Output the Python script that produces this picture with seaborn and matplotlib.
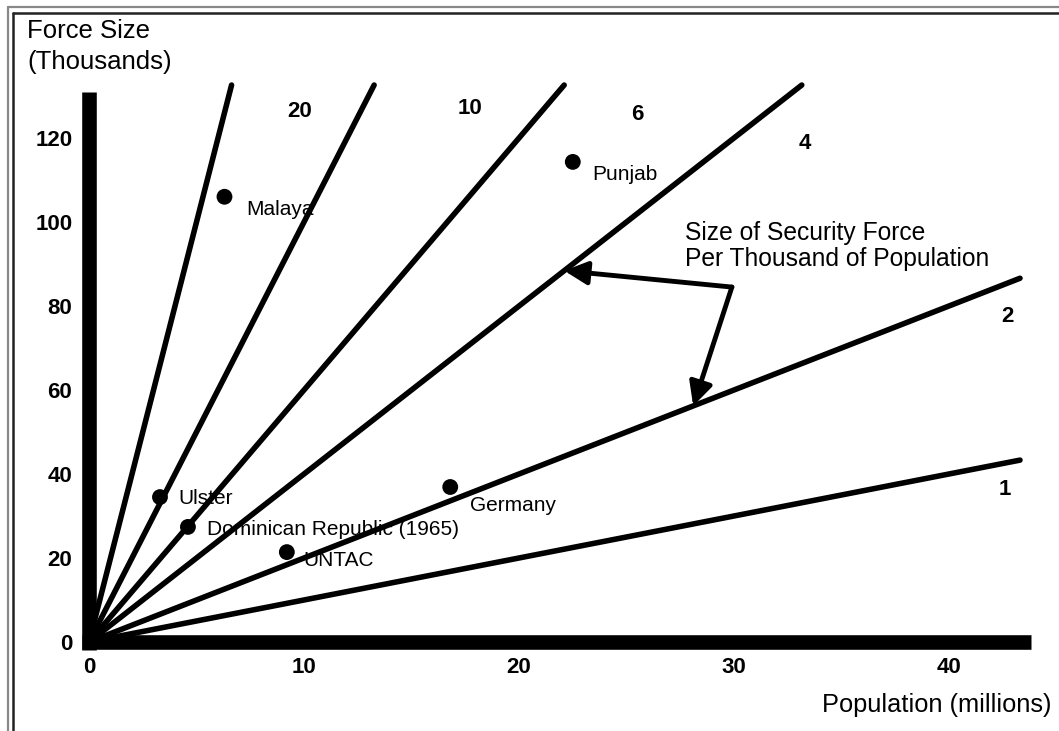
import numpy as np
import pandas as pd
import matplotlib
matplotlib.use("Agg")
import matplotlib.pyplot as plt
from matplotlib.lines import Line2D
import seaborn as sns

# ── Data ──────────────────────────────────────────────────────────────
ratios = [1, 2, 4, 6, 10, 20]          # security force per thousand population
ratio_labels = ["1", "2", "4", "6", "10", "20"]

cases = ["Malaya", "Punjab", "Ulster", "Dominican Republic (1965)", "UNTAC", "Germany"]
case_pop = [6.3, 22.5, 3.3, 4.6, 9.2, 16.8]          # millions
case_force = [106.0, 114.3, 34.5, 27.4, 21.4, 36.9]  # thousands

x_ticks = [0, 10, 20, 30, 40]
y_ticks = [0, 20, 40, 60, 80, 100, 120]

X_MAX = 43.3   # extent of the ratio lines
Y_CAP = 132.6

# ── Layout (not data) ─────────────────────────────────────────────────
ratio_label_pos = [(42.6, 36.2), (42.7, 77.4), (33.3, 118.8),
                   (25.5, 125.5), (17.7, 127.1), (9.8, 126.4)]
case_offsets = [(16, -9), (14, -9), (13, -1), (14, -2), (12, -6), (14, -13)]  # points

# build line table from the ratios
rows = []
for r in ratios:
    x_end = min(X_MAX, Y_CAP / r)
    for x in (0.0, x_end):
        rows.append({"ratio": r, "pop": x, "force": r * x})
lines_df = pd.DataFrame(rows)
cases_df = pd.DataFrame({"case": cases, "pop": case_pop, "force": case_force})

sns.set_theme(style="white")
plt.rcParams["font.family"] = ["Liberation Sans", "DejaVu Sans"]
plt.rcParams.update({"text.color": "black", "xtick.color": "black",
                     "ytick.color": "black", "axes.labelcolor": "black"})

fig = plt.figure(figsize=(10.59, 7.31), dpi=100)
ax = fig.add_axes([60 / 1059, 51 / 731, 980 / 1059, 600 / 731])
ax.set_xlim(-1.35, 44.23)
ax.set_ylim(-9.05, 133.8)

sns.lineplot(data=lines_df, x="pop", y="force", units="ratio", estimator=None,
             sort=False, color="black", linewidth=4, ax=ax)
sns.scatterplot(data=cases_df, x="pop", y="force", color="black", s=130,
                edgecolor="none", ax=ax, zorder=5)

for (name, px, fy), off in zip(zip(cases, case_pop, case_force), case_offsets):
    ax.annotate(name, (px, fy), xytext=off, textcoords="offset points",
                ha="left", va="center", fontsize=15, color="black")

for lab, (lx, ly) in zip(ratio_labels, ratio_label_pos):
    ax.text(lx, ly, lab, ha="center", va="center", fontsize=16,
            fontweight="bold", color="black")

# thick axis bars
for side in ["top", "right"]:
    ax.spines[side].set_visible(False)
ax.spines["left"].set_position(("data", 0))
ax.spines["bottom"].set_position(("data", 0))
ax.spines["left"].set_bounds(-2, 131)
ax.spines["bottom"].set_bounds(-0.35, 43.8)
for side in ["left", "bottom"]:
    ax.spines[side].set_linewidth(10.5)
    ax.spines[side].set_color("black")
    ax.spines[side].set_capstyle("butt")
    ax.spines[side].set_zorder(6)

ax.set_xticks(x_ticks)
ax.set_yticks(y_ticks)
ax.set_xticklabels([str(t) for t in x_ticks], fontsize=16, fontweight="bold")
ax.set_yticklabels([str(t) for t in y_ticks], fontsize=16, fontweight="bold")
ax.tick_params(axis="x", length=0, pad=11, colors="black")
ax.tick_params(axis="y", length=0, pad=12, colors="black")
ax.set_xlabel("")
ax.set_ylabel("")
ax.grid(False)

# annotation with two arrows pointing at the 4 and 2 lines
ax.text(27.7, 94.3, "Size of Security Force\nPer Thousand of Population",
        ha="left", va="center", fontsize=17.7, linespacing=1.1, color="black")
corner = (29.9, 84.5)
tip_ys = {4: 88.4, 2: 56.2}
for r, ty in tip_ys.items():
    ax.annotate("", xy=(ty / r, ty), xytext=corner,
                arrowprops=dict(arrowstyle="-|>", color="black", lw=3.5,
                                mutation_scale=35, shrinkA=0, shrinkB=0))

fig.text(27 / 1059, 1 - 19 / 731, "Force Size\n(Thousands)", ha="left", va="top",
         fontsize=18.5, linespacing=1.35, color="black")
fig.text(822 / 1059, 1 - 705 / 731, "Population (millions)", ha="left",
         va="center", fontsize=18.3, color="black")

# double frame (open on right and bottom, as in the scan)
W, H = 1059, 731
fig.add_artist(Line2D([8 / W, 1], [1 - 7 / H, 1 - 7 / H], color="#888888", lw=1.6))
fig.add_artist(Line2D([8 / W, 8 / W], [0, 1 - 7 / H], color="#888888", lw=1.6))
fig.add_artist(Line2D([13 / W, 1], [1 - 13 / H, 1 - 13 / H], color="#222222", lw=1.8))
fig.add_artist(Line2D([13 / W, 13 / W], [0, 1 - 13 / H], color="#222222", lw=1.8))

fig.savefig("out.png", dpi=100)
